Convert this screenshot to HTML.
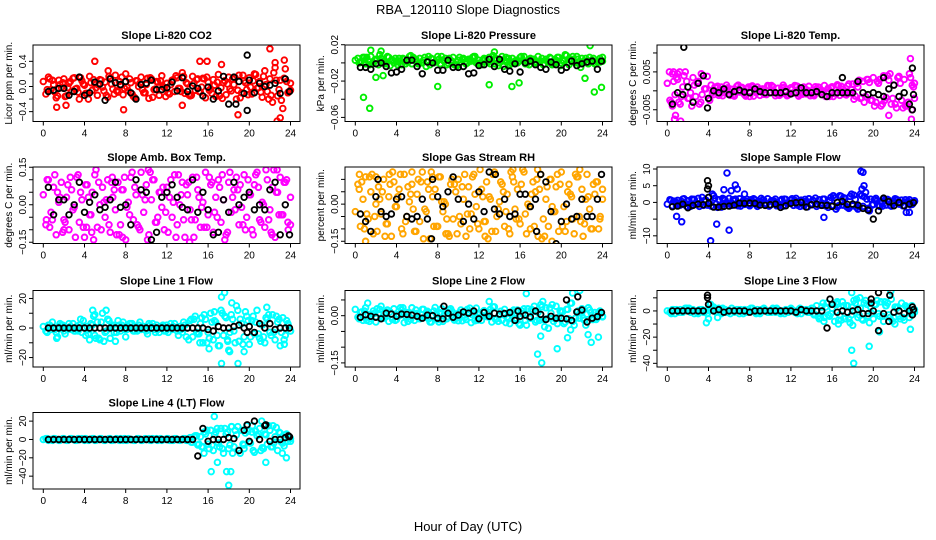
<!DOCTYPE html>
<html><head><meta charset="utf-8"><title>RBA_120110 Slope Diagnostics</title>
<style>
html,body{margin:0;padding:0;background:#fff;}
svg{display:block;font-family:"Liberation Sans",sans-serif;}
</style></head>
<body>
<svg id="chart" width="936" height="540" viewBox="0 0 936 540" xmlns="http://www.w3.org/2000/svg">
<rect x="0" y="0" width="936" height="540" fill="#fff"/>
<text x="468" y="14" text-anchor="middle" font-size="13">RBA_120110  Slope Diagnostics</text>
<text x="468" y="531" text-anchor="middle" font-size="13">Hour of Day (UTC)</text>
</svg>
<script>
// ---- shared hour grids ----
const hourQ = [0,0.25,0.5,0.75,1,1.25,1.5,1.75,2,2.25,2.5,2.75,3,3.25,3.5,3.75,4,4.25,4.5,4.75,5,5.25,5.5,5.75,6,6.25,6.5,6.75,7,7.25,7.5,7.75,8,8.25,8.5,8.75,9,9.25,9.5,9.75,10,10.25,10.5,10.75,11,11.25,11.5,11.75,12,12.25,12.5,12.75,13,13.25,13.5,13.75,14,14.25,14.5,14.75,15,15.25,15.5,15.75,16,16.25,16.5,16.75,17,17.25,17.5,17.75,18,18.25,18.5,18.75,19,19.25,19.5,19.75,20,20.25,20.5,20.75,21,21.25,21.5,21.75,22,22.25,22.5,22.75,23,23.25,23.5,23.75,24];
const hourH = [0.5,1,1.5,2,2.5,3,3.5,4,4.5,5,5.5,6,6.5,7,7.5,8,8.5,9,9.5,10,10.5,11,11.5,12,12.5,13,13.5,14,14.5,15,15.5,16,16.5,17,17.5,18,18.5,19,19.5,20,20.5,21,21.5,22,22.5,23,23.5,23.9];
const xTicks = [0,4,8,12,16,20,24];

// ---- CO2 (0.01 ppm units) ----
const co2A = [8,-12,15,-5,3,-18,10,-2,12,-15,5,-8,14,-3,-20,9,2,-11,16,-6,4,-14,11,-1,7,-17,13,-4,18,-9,1,-13,20,-7,6,-16,9,0,15,-10,3,-19,12,-5,8,-14,17,-2,5,-12,10,-8,14,-3,22,-11,4,-15,16,-6,12,-9,13,-18,7,-4,11,-16,19,-2,6,-13,15,-7,3,-20,18,-10,9,-5,14,-12,20,-3,8,-17,25,-8,12,-25,30,-15,10,-35,28,-10,5];
const co2B = [-5,10,-15,6,-2,13,-9,4,-20,11,2,-7,16,-12,8,-3,12,-18,5,-10,14,-4,9,-16,3,17,-8,6,-14,11,-1,15,-11,7,-19,4,12,-6,18,-13,9,-2,16,-20,22,-5,13,-9];
const co2C = [12,-9,3,-16,8,-4,14,-11,6,-2,10,-14,4,-7,15,-1,-12,9,-5,13,-17,7,0,-10,11,-3,16,-13,5,-8,12,-6,2,-15,9,-4,14,-18,6,-1,19,-9,3,-14,10,-22,8,-6];
const co2K = [-8,-6,-3,-3,-14,-8,15,-14,-10,7,4,-22,12,6,3,8,-10,-20,3,5,10,-5,-5,-2,7,-7,14,-8,1,-3,-15,-1,-20,-7,16,-28,15,8,-11,10,-10,5,0,2,5,-11,12,-8];
const co2OutX = [5,6.3,15.2,15.9,17.3,22,22.5,23.4,7.8,18.9,23,22.7,13.5,2.2,1.3];
const co2OutY = [40,25,40,40,35,60,38,42,-37,-45,-50,-55,-30,-30,-33];
const co2KOutX = [19.8,19.8,18.7];
const co2KOutY = [50,-38,-28];

// ---- Pressure (0.001 kPa units) ----
const presA = [3,5,1,6,-1,2,7,0,4,-2,5,2,-1,6,3,0,1,5,-2,4,2,7,-1,3,1,5,0,6,2,-2,4,1,7,-1,3,5,0,2,6,-2,3,1,5,-1,4,2,7,0,3,-2,5,1,6,2,-1,4,0,7,3,1,-2,5,2,0,6,3,-1,1,5,4,0,7,2,-2,4,1,5,-1,3,6,0,2,8,-2,4,1,7,-1,5,2,0,6,3,-1,1,5,2];
const presB = [0,6,-2,3,9,1,-3,5,2,-1,8,4,0,-4,5,1,7,-2,2,-3,4,0,6,-1,3,1,8,-3,-4,5,0,2,7,-2,4,1,-1,6,2,-3,9,3,0,-5,5,2,-1,1];
const presC = [2,6,-1,4,0,7,3,-2,5,1,6,-1,3,7,0,4,2,5,-2,6,1,3,7,0,4,-1,5,2,6,0,3,7,-1,4,1,5,2,-2,6,3,0,7,4,1,-1,5,2,6];
const presK = [-5,-5,-7,-1,0,-4,-11,-10,-7,3,3,-4,-12,1,0,-8,-8,3,-5,-5,-4,-12,-11,-3,-2,4,-4,4,-7,-9,-1,-10,0,2,-2,-5,-7,1,-2,-8,-5,2,-3,-1,1,2,-7,2];
const presOutX = [0.8,1.4,2,2.7,8,13,15.2,15.9,22.3,23.2,23.9,1.5,2.5,22.8,13.5];
const presOutY = [-38,-50,-16,-14,-26,-24,-26,-22,-17,-32,-27,14,13,19,12];
const presKOutX = [];
const presKOutY = [];

// ---- Li-820 Temp (0.0001 C units) ----
const ltA = [20,-25,45,-10,30,-35,10,50,-20,-5,35,-15,25,-30,40,5,-20,15,-10,8,-12,10,-5,15,-8,4,-14,12,-3,9,-10,6,-15,13,-2,10,-12,5,-7,14,-4,11,-13,7,-9,15,-1,-11,8,-6,13,-14,3,10,-8,12,-5,-13,6,9,-10,14,-3,-15,11,-7,16,-12,4,-9,13,-6,18,-14,10,-20,25,-15,30,-25,35,-30,20,-40,40,-18,28,-35,15,-45,38,-25,30,-40,45,-50,20];
const ltB = [-30,35,-15,25,-40,20,-10,38,-5,12,-13,8,-11,15,-6,10,-14,4,-9,13,-2,-12,9,-7,14,-10,5,-13,11,-4,-15,8,-8,12,-11,3,20,-18,30,-25,25,-35,40,-20,35,-45,-30,15];
const ltC = [25,-30,40,-20,15,-35,5,-25,10,-8,6,-12,3,9,-14,11,-5,2,-10,14,-7,8,-13,4,12,-9,1,-11,10,-3,7,-15,13,-6,18,-22,28,-30,22,-40,30,-25,45,-35,20,-40,35,-20];
const ltK = [-35,-5,-10,10,-30,20,40,-20,0,-5,5,-10,-2,2,-3,-5,5,-2,-5,-5,-5,-5,-2,-8,-5,8,-5,-5,-2,-10,-15,-5,-5,-5,-5,-5,25,-5,-10,-5,-10,-15,5,15,-15,-5,-35,-10];
const ltOutX = [0.2,0.6,1.0,1.2,1.3,0.7,0.8,3.3,23.6,23.7,23.9,21.5,0.5];
const ltOutY = [50,50,45,50,-80,-75,-65,45,85,-75,10,-65,-40];
const ltKOutX = [1.6,3.9,23.8,23.8,17,21];
const ltKOutY = [115,-45,60,-50,35,35];

// ---- Amb Box Temp (0.01 C units) ----
const abA = [4,-8,10,-3,7,-12,1,9,-6,3,-10,6,-1,11,-7,2,-13,8,-4,5,12,-9,0,7,-5,10,-11,3,-2,9,-8,6,-14,1,11,-6,4,-9,13,-3,8,-12,2,10,-7,5,-1,-10,7,3,-5,12,-8,0,9,-13,4,-2,11,-6,6,-9,1,13,-4,8,-11,3,10,-7,2,-12,9,-3,6,11,-8,-1,12,-5,4,-10,8,13,-6,1,-9,10,-2,7,-13,5,11,-4,9,-7,3];
const abB = [10,-6,5,-11,8,-2,12,-9,3,-14,9,1,-8,6,-12,11,-4,7,-10,2,13,-7,5,-3,10,-13,4,8,-6,11,-1,-9,9,-5,12,-11,3,6,-8,10,-12,7,0,-6,14,-4,9,-10];
const abC = [-9,12,3,-7,11,-13,5,8,-4,14,-10,2,9,-12,6,-1,13,-8,4,-14,10,-5,7,-11,1,12,-6,9,-13,3,-9,11,-3,7,-14,13,-2,8,-10,4,12,-7,14,-11,5,-4,10,-8];
const abK = [7,-4,2,2,-4,0,9,-3,1,4,-2,-1,2,9,-1,0,-8,10,6,5,-14,-11,3,5,8,3,-1,-2,10,-3,5,-2,-12,-11,2,-3,9,0,3,5,-2,0,-2,6,9,-12,0,-12];
const abOutX = [10.2,14.2,22.7,7.7,2,4.2,4.7,6.7,22.2,0.3,0.4];
const abOutY = [14,-15,14,-13,-10,-9,-11,11,-12,-6,10];
const abKOutX = [];
const abKOutY = [];

// ---- Gas Stream RH (0.01 % units) ----
const rhA = [-3,8,-9,2,11,-6,5,-12,0,7,-4,10,-8,3,-13,9,-1,6,-10,12,-5,1,8,-11,4,-7,13,-2,9,-14,3,6,-9,11,-3,0,-12,8,-6,5,10,-8,2,-13,7,-4,12,-1,-10,6,-7,9,3,-11,13,-5,1,8,-9,4,-12,11,-2,6,-8,14,-4,0,-10,9,5,-13,12,-6,2,-9,10,-3,7,-11,13,-1,-7,8,3,-12,11,-5,6,-8,12,-2,-10,4,9,-6,2];
const rhB = [6,-10,11,-5,2,-13,8,-1,12,-7,4,-11,9,-3,13,-9,1,-6,10,-12,7,-4,11,-8,3,-14,12,-2,5,-10,9,-6,13,-1,-9,6,-13,10,-3,8,-11,4,12,-7,2,-10,9,-5];
const rhC = [9,-4,12,-11,5,-8,13,3,-12,7,-2,10,-14,6,-9,11,1,-13,8,-5,12,-10,4,14,-7,2,-11,9,-3,13,-6,8,-12,4,10,-14,7,-1,12,-9,5,-6,11,-13,3,8,-10,6];
const rhK = [-4,-7,-11,3,-3,-5,-4,2,3,-5,-6,-5,2,-6,10,3,-1,5,11,2,-7,0,-6,5,-3,13,-2,-4,2,-5,-4,4,4,-1,2,12,9,-3,-16,-7,0,-6,-5,2,-5,-5,2,12];
const rhOutX = [0.4,1.0,2.0,3.3,5.5,7.5,15.3,17.7,21.8,8.8,12.6,19.1];
const rhOutY = [12,-15,11,12,13,11,14,14,14,-12,-13,-15];
const rhKOutX = [7.4,17.6,13.6,2.2];
const rhKOutY = [-14,-11,12,10];

// ---- Sample Flow (0.1 ml/min units) ----
const sfA = [-5,8,-10,3,6,-8,10,-3,5,-12,9,-6,12,-2,-9,7,15,-11,20,-5,8,-14,10,-4,12,-9,5,-7,11,-2,-6,9,-10,4,8,-12,3,7,-5,11,-8,2,10,-6,5,-11,9,-3,6,-9,12,-4,7,-10,3,11,-7,4,-12,8,-2,10,-6,5,-9,14,-13,20,-8,12,-15,18,-10,9,-20,25,-12,30,-18,10,-6,12,-9,4,11,-8,6,-11,3,9,-5,7,-10,2,8,-4,5];
const sfB = [6,-9,3,-12,10,-5,15,-8,25,-15,12,-4,8,-10,5,-7,11,-3,7,-11,4,-9,10,-2,6,-12,9,-5,13,-8,-10,15,-20,18,-12,25,-15,20,10,-8,5,-11,9,-4,7,-10,3,-6];
const sfC = [4,-8,11,-6,9,-12,6,-3,13,-9,7,-5,10,-11,3,8,-7,12,-4,5,-10,9,-2,11,-8,4,-13,7,-6,10,-15,20,-10,14,-18,22,-12,17,-25,8,-12,6,-9,11,-5,8,-7,3];
const sfK = [-13,-11,-5,-16,-9,-5,-7,-3,-14,-14,-12,-11,-8,-2,-3,-2,-3,-8,-9,-7,-5,-15,-10,-3,-1,0,-14,-7,-5,-9,-9,-12,0,3,-6,-5,-8,-18,-23,-50,-25,13,2,-10,0,-10,-5,-1];
const sfOutX = [0.9,1.4,4.2,4.8,5.8,6.0,6.6,6.8,6.2,18.8,19.0,19.1,18.9,15.2,23.2,23.5,5.5,7.5];
const sfOutY = [-42,-58,-115,-65,88,-83,52,40,35,93,90,50,40,-45,-30,-30,38,25];
const sfKOutX = [3.9,3.9,4.0,4.0];
const sfKOutY = [65,40,50,15];

// ---- Line 1 Flow (ml/min) ----
const l1A = [1,-2,2,-1,0,-3,1,2,-2,0,3,-1,-2,1,2,-3,0,1,-1,2,-5,4,-8,10,-3,6,-7,2,-9,5,-2,4,-6,1,3,-2,0,2,-1,1,-2,3,0,-1,2,-3,1,-2,2,0,-1,3,-2,1,-3,2,0,5,-6,8,-4,3,-10,6,-3,10,-8,4,-12,12,-5,7,-15,9,-2,15,-9,3,-6,8,-11,5,-4,12,-7,2,-10,6,-3,9,-8,4,-12,7,-5,3,-2];
const l1B = [-3,4,-6,2,-1,3,-2,5,-4,8,-7,-9,5,-3,2,-1,3,-2,4,-1,2,-3,1,-2,3,0,-1,-6,6,-3,7,-10,4,-5,10,-8,6,12,-11,5,8,-4,-6,9,-3,6,-8,2];
const l1C = [2,-1,3,-4,1,-2,6,-5,3,-7,4,-2,1,-3,2,-1,3,-2,1,-4,3,-1,2,-3,1,-5,4,-8,6,-4,9,-7,5,-12,8,-3,-10,6,11,-6,4,-9,7,-5,8,-3,5,-2];
const l1K = [0,0,0,0,0,0,0,0,0,0,0,0,0,0,0,0,0,0,0,0,0,0,0,0,0,0,0,0,0,0,0,-1,-2,1,0,0,1,2,0,1,-3,3,0,3,-1,0,0,0];
const l1OutX = [4.8,5.0,6.1,17.3,17.6,18.3,18.1,17.9,19.5,21.7,16.6,16.1,15.2,18.9,23.4,17.3,1.3,4.5];
const l1OutY = [12,9,12,21,24,17,-16,-9,-16,14,11,-14,-10,-24,-11,-24,-7,-8];
const l1KOutX = [19.8];
const l1KOutY = [-3];

// ---- Line 2 Flow (0.001 ml/min units) ----
const l2A = [20,-5,10,-15,25,3,-10,15,-20,8,30,-8,12,-18,5,22,-12,0,18,-22,10,-3,25,-15,7,-10,20,-5,14,-20,2,26,-12,9,-18,15,-3,22,-8,5,-16,18,0,-12,12,-22,8,24,-6,-15,16,-2,10,-20,28,-9,4,-14,20,-4,-25,12,-10,18,-30,6,-15,22,-8,14,-20,10,35,-12,25,-40,8,-18,30,-5,15,-25,20,-10,40,-30,12,-8,22,-15,5,18,-12,10,-6,15,-2];
const l2B = [-10,15,-18,8,20,-5,12,-15,25,-2,-12,18,-8,10,-20,5,22,-10,14,-6,-16,20,3,-14,12,-4,28,-18,8,-10,18,-25,22,-6,30,-15,-35,25,-10,15,-20,40,-8,12,-30,10,-12,5];
const l2C = [12,-15,5,22,-8,18,-12,3,25,-18,8,-5,20,-10,15,-20,2,18,-14,10,-6,24,-16,6,-2,20,-12,14,-22,9,-8,16,-30,20,-15,28,-10,35,-25,12,20,-18,15,-8,25,-12,10,-4];
const l2K = [-5,3,-2,-5,-10,8,5,-2,5,4,2,-2,-8,2,0,-8,-10,8,-5,2,12,8,15,-10,10,-2,8,5,7,10,-15,-2,2,-4,15,4,-12,-2,-8,-8,-10,-15,12,18,-20,-8,-3,10];
const l2OutX = [16.6,17.7,18.1,18.0,19.6,20.6,20.9,21.1,21.8,22.6,22.9,23.6,1.2,13,18.2];
const l2OutY = [70,-122,-150,-65,-105,-70,-45,72,80,-60,-85,-68,40,45,45];
const l2KOutX = [8.6,20.5,21.6,15.8];
const l2KOutY = [30,50,60,15];

// ---- Line 3 Flow (ml/min) ----
const l3A = [0,-1,1,-2,0,1,-1,2,0,-1,1,0,-2,1,-1,0,-6,2,3,-1,2,-2,1,-1,0,2,-1,1,-2,0,1,-1,0,2,-1,1,-2,0,1,-1,0,2,-1,1,-2,0,1,-1,2,0,-1,1,-2,0,1,-1,2,-3,4,-6,3,-5,6,-4,2,-8,5,-3,7,-6,4,-9,3,6,-5,2,-7,8,-4,3,-6,5,-2,7,-8,4,-3,9,-5,2,-4,6,-7,3,-5,4,-1];
const l3B = [-2,1,-1,2,0,-1,1,-2,3,-5,2,-1,0,1,-2,1,0,-1,2,-1,1,0,-2,1,-1,2,0,-1,-3,-5,3,-2,6,-7,4,-3,9,-6,5,-2,8,-4,6,-8,3,-5,2,-1];
const l3C = [1,-1,0,2,-2,1,-1,0,2,-1,1,-2,0,1,-1,2,-2,1,0,-1,2,-1,0,1,-2,1,-1,2,-4,6,-3,5,-7,4,-6,8,-3,6,-9,5,-4,7,-5,3,-6,4,-2,1];
const l3K = [0,0,0,0,0,0,0,5,0,1,-1,0,0,0,0,-1,0,0,0,0,0,0,0,0,-1,1,0,0,0,0,-13,5,-1,0,-1,0,1,-2,-2,0,-15,-2,-8,-1,0,-2,0,1];
const l3OutX = [3.8,4.2,16.5,17.9,18.1,18.7,19.6,20.6,21.7,22.1,23.6,17.9,18.0,15.2,16.6,21.2];
const l3OutY = [-9,5,7,-30,-40,10,-27,-16,15,-10,-14,14,-11,-8,-10,4];
const l3KOutX = [3.9,3.9,15.8,19.8,19.8,20.5,21.6,23.8,23.8];
const l3KOutY = [12,10,9,6,9,14,12,3,-3];

// ---- Line 4 (LT) Flow (ml/min) ----
const l4A = [0,1,-1,0,1,0,-1,0,1,-1,0,1,0,-1,0,1,-1,0,0,1,-1,0,1,0,-1,0,1,-1,0,0,1,-1,0,1,0,-1,0,1,-1,0,0,1,-1,0,1,0,-1,0,1,-1,0,1,0,-1,0,1,-1,2,-3,4,-6,3,-8,6,-5,10,-12,8,-4,12,-15,6,-10,14,-8,5,-12,10,-6,15,-3,8,-14,4,12,-9,6,-5,10,-8,3,-12,7,-4,5,-2,1];
const l4B = [1,-1,0,1,-1,0,1,0,-1,1,0,-1,1,0,-1,1,0,-1,0,1,-1,0,1,0,-1,1,0,-1,-3,4,-8,10,-6,12,-10,8,-15,14,-5,9,-12,6,-10,15,-4,8,-7,3];
const l4C = [0,1,-1,0,1,-1,0,1,0,-1,1,0,-1,1,0,-1,0,1,-1,0,1,-1,0,1,-1,0,1,-1,3,-5,8,-10,5,-8,12,-6,10,-15,7,-4,9,-12,5,-8,13,-3,6,-2];
const l4K = [0,0,0,0,0,0,0,0,0,0,0,0,0,0,0,0,0,0,0,0,0,0,0,0,0,0,0,0,0,-18,12,-2,0,0,0,2,1,-12,10,-2,20,0,15,-2,0,0,2,3];
const l4OutX = [16.3,17.8,18.0,18.2,19.5,20.3,21.2,22.3,23.2,23.6,16.9,15.6,21.6,16.6,18.3];
const l4OutY = [-35,-35,-50,-35,-10,15,20,15,-15,-20,-25,-15,-25,25,14];
const l4KOutX = [19.8,21.6,23.8];
const l4KOutY = [16,16,4];

// ---- panel layout (not data) ----
const panels = [
 {name:'co2', title:'Slope Li-820 CO2', ylab:'Licor ppm per min.', col:0,row:0, color:'#ff0000', unit:0.01, ylim:[-0.557,0.66], yt:[-0.4,-0.2,0,0.2,0.4], yl:[-0.4,0,0.4], fmt:v=>v.toFixed(1), A:co2A,B:co2B,C:co2C,K:co2K,oX:co2OutX,oY:co2OutY,kX:co2KOutX,kY:co2KOutY},
 {name:'pressure', title:'Slope Li-820 Pressure', ylab:'kPa per min.', col:1,row:0, color:'#00ee00', unit:0.001, ylim:[-0.0645,0.0197], yt:[-0.06,-0.04,-0.02,0,0.02], yl:[-0.06,-0.02,0.02], fmt:v=>v.toFixed(2), A:presA,B:presB,C:presC,K:presK,oX:presOutX,oY:presOutY,kX:presKOutX,kY:presKOutY},
 {name:'li820-temp', title:'Slope Li-820 Temp.', ylab:'degrees C per min.', col:2,row:0, color:'#ff00ff', unit:0.0001, ylim:[-0.0081,0.0121], yt:[-0.005,0,0.005,0.01], yl:[-0.005,0.005], fmt:v=>v.toFixed(3), A:ltA,B:ltB,C:ltC,K:ltK,oX:ltOutX,oY:ltOutY,kX:ltKOutX,kY:ltKOutY},
 {name:'amb-box-temp', title:'Slope Amb. Box Temp.', ylab:'degrees C per min.', col:0,row:1, color:'#ff00ff', unit:0.01, ylim:[-0.155,0.151], yt:[-0.15,-0.1,-0.05,0,0.05,0.1,0.15], yl:[-0.15,0,0.15], fmt:v=>v.toFixed(2), A:abA,B:abB,C:abC,K:abK,oX:abOutX,oY:abOutY,kX:abKOutX,kY:abKOutY},
 {name:'gas-stream-rh', title:'Slope Gas Stream RH', ylab:'percent per min.', col:1,row:1, color:'#ffa500', unit:0.01, ylim:[-0.159,0.150], yt:[-0.15,-0.1,-0.05,0,0.05,0.1], yl:[-0.15,0], fmt:v=>v.toFixed(2), A:rhA,B:rhB,C:rhC,K:rhK,oX:rhOutX,oY:rhOutY,kX:rhKOutX,kY:rhKOutY},
 {name:'sample-flow', title:'Slope Sample Flow', ylab:'ml/min per min.', col:2,row:1, color:'#0000ff', unit:0.1, ylim:[-12.3,10.6], yt:[-10,-5,0,5,10], yl:[-10,0,5,10], fmt:v=>String(v), A:sfA,B:sfB,C:sfC,K:sfK,oX:sfOutX,oY:sfOutY,kX:sfKOutX,kY:sfKOutY},
 {name:'line1-flow', title:'Slope Line 1 Flow', ylab:'ml/min per min.', col:0,row:2, color:'#00ffff', unit:1, ylim:[-26.4,25.4], yt:[-20,-10,0,10,20], yl:[-20,0,20], fmt:v=>String(v), A:l1A,B:l1B,C:l1C,K:l1K,oX:l1OutX,oY:l1OutY,kX:l1KOutX,kY:l1KOutY},
 {name:'line2-flow', title:'Slope Line 2 Flow', ylab:'ml/min per min.', col:1,row:2, color:'#00ffff', unit:0.001, ylim:[-0.163,0.080], yt:[-0.15,-0.1,-0.05,0,0.05], yl:[-0.15,0], fmt:v=>v.toFixed(2), A:l2A,B:l2B,C:l2C,K:l2K,oX:l2OutX,oY:l2OutY,kX:l2KOutX,kY:l2KOutY},
 {name:'line3-flow', title:'Slope Line 3 Flow', ylab:'ml/min per min.', col:2,row:2, color:'#00ffff', unit:1, ylim:[-42.8,15.6], yt:[-40,-30,-20,-10,0,10], yl:[-40,-20,0], fmt:v=>String(v), A:l3A,B:l3B,C:l3C,K:l3K,oX:l3OutX,oY:l3OutY,kX:l3KOutX,kY:l3KOutY},
 {name:'line4-flow', title:'Slope Line 4 (LT) Flow', ylab:'ml/min per min.', col:0,row:3, color:'#00ffff', unit:1, ylim:[-54,29.4], yt:[-40,-20,0,20], yl:[-40,-20,0,20], fmt:v=>String(v), A:l4A,B:l4B,C:l4C,K:l4K,oX:l4OutX,oY:l4OutY,kX:l4KOutX,kY:l4KOutY}
];

const NS = 'http://www.w3.org/2000/svg';
const svg = document.getElementById('chart');
const colX = [0,312,624];
const rowTop = [45,167,290.5,412.5];
const boxH = 76.5;
function mk(tag, attrs, parent){
  const e = document.createElementNS(NS, tag);
  for (const k in attrs) e.setAttribute(k, attrs[k]);
  parent.appendChild(e);
  return e;
}
function fmtMinus(s){ return s.replace('-', '\u2212'); }

panels.forEach((p, pi) => {
  const ox = colX[p.col];
  const L = ox + 33, R = ox + 300, T = rowTop[p.row], B = T + boxH;
  const x0 = ox + 43.3, x24 = ox + 290.5;
  const xs = h => x0 + (h / 24) * (x24 - x0);
  const ys = v => B - (v - p.ylim[0]) / (p.ylim[1] - p.ylim[0]) * (B - T);

  const g = mk('g', {}, svg);
  
  

  const clipId = 'clip' + pi;
  const cp = mk('clipPath', {id: clipId}, g);
  mk('rect', {x: L, y: T, width: R - L, height: B - T}, cp);

  const title = mk('text', {x: (L + R) / 2, y: T - 6, 'text-anchor': 'middle', 'font-size': 11, 'font-weight': 'bold'}, g);
  title.textContent = p.title;
  
  

  const yl = mk('text', {x: 0, y: 0, 'text-anchor': 'middle', 'font-size': 10, transform: `translate(${L - 21},${(T + B) / 2}) rotate(-90)`}, g);
  yl.textContent = p.ylab;
  
  

  const pts = mk('g', {'clip-path': `url(#${clipId})`, fill: 'none'}, g);
  
  
  const dot = (h, v, color, nm, sw) => {
    const c = mk('circle', {cx: xs(h).toFixed(1), cy: ys(v * p.unit).toFixed(1), r: 2.8, stroke: color, 'stroke-width': sw}, pts);
    
    
  };
  p.A.forEach((v, i) => { if (i < hourQ.length) dot(hourQ[i], v, p.color, 'colored-point', 1.9); });
  p.B.forEach((v, i) => { if (i < hourH.length) dot(hourH[i] - 0.12, v, p.color, 'colored-point', 1.9); });
  p.C.forEach((v, i) => { if (i < hourH.length) dot(Math.min(24, hourH[i] + 0.12), v, p.color, 'colored-point', 1.9); });
  p.oX.forEach((h, i) => dot(h, p.oY[i], p.color, 'colored-point', 1.9));
  p.K.forEach((v, i) => { if (i < hourH.length) dot(hourH[i], v, '#000', 'black-point', 1.8); });
  p.kX.forEach((h, i) => dot(h, p.kY[i], '#000', 'black-point', 1.8));

  const box = mk('rect', {x: L, y: T, width: R - L, height: B - T, fill: 'none', stroke: '#000', 'stroke-width': 1}, g);
  
  

  const xa = mk('g', {stroke: '#000', 'stroke-width': 1}, g);
  
  
  xTicks.forEach(t => {
    mk('line', {x1: xs(t), x2: xs(t), y1: B, y2: B + 4}, xa);
    const tx = mk('text', {x: xs(t), y: B + 15, 'text-anchor': 'middle', 'font-size': 10, stroke: 'none', fill: '#000'}, xa);
    tx.textContent = String(t);
    
    
  });

  const ya = mk('g', {stroke: '#000', 'stroke-width': 1}, g);
  
  
  p.yt.forEach(t => mk('line', {x1: L - 4, x2: L, y1: ys(t), y2: ys(t)}, ya));
  p.yl.forEach(t => {
    const tx = mk('text', {x: 0, y: 0, 'text-anchor': 'middle', 'font-size': 10, stroke: 'none', fill: '#000', transform: `translate(${L - 7},${ys(t)}) rotate(-90)`}, ya);
    tx.textContent = fmtMinus(p.fmt(t));
    
    
  });
});
</script>
</body></html>
